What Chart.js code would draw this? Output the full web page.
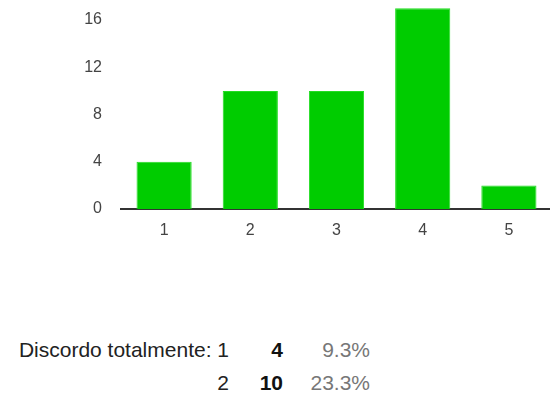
<!DOCTYPE html>
<html lang="pt">
<head>
<meta charset="UTF-8">
<title>Discordo totalmente</title>
<script src="https://cdn.jsdelivr.net/npm/chart.js"></script>
<style>
  body { margin: 0; background: #fff; font-family: "Liberation Sans", Arial, sans-serif; overflow: hidden; }
  #wrap { position: relative; width: 552px; height: 241px; }
  .row { position: absolute; left: 0; width: 550px; height: 24px; font-size: 21px; line-height: 24px; }
  .row span { position: absolute; top: 0; text-align: right; white-space: nowrap; }
  .lab { right: 321px; color: #222; }
  .num { right: 267px; color: #111; font-weight: bold; }
  .pct { right: 180px; color: #777; }
</style>
</head>
<body>
<div id="wrap"><canvas id="grafico"></canvas></div>
<div id="tabela"></div>

<script>
// valores
const categorias = ['1', '2', '3', '4', '5'];
const respostas = [4, 10, 10, 17, 2];
const ticksY = [0, 4, 8, 12, 16];

const total = respostas.reduce((a, b) => a + b, 0);

new Chart(document.getElementById('grafico'), {
    type: 'bar',
    data: {
        labels: categorias,
        datasets: [{
            data: respostas,
            backgroundColor: '#00cc00',
            borderColor: '#22dd22',
            borderWidth: 1,
            barPercentage: 0.64,
            categoryPercentage: 1
        }]
    },
    options: {
        responsive: true,
        maintainAspectRatio: false,
        animation: false,
        layout: { padding: 0 },
        plugins: { legend: { display: false }, tooltip: { enabled: false } },
        scales: {
            x: {
                grid: { display: false, drawTicks: false },
                border: { display: true, color: '#333', width: 2 },
                ticks: { color: '#444', padding: 12, font: { family: 'Liberation Sans', size: 16 } },
                afterFit: s => { s.height = 32; s.paddingLeft = 0; s.paddingRight = 0; }
            },
            y: {
                min: 0,
                max: 17.7,
                grid: { display: false, drawTicks: false },
                border: { display: false },
                afterBuildTicks: s => { s.ticks = ticksY.map(v => ({ value: v })); },
                ticks: { color: '#444', padding: 19, font: { family: 'Liberation Sans', size: 16 } },
                afterFit: s => { s.width = 121; s.paddingTop = 0; s.paddingBottom = 0; }
            }
        }
    }
});

// tabela de resumo abaixo do grafico
const tabela = document.getElementById('tabela');
const linhas = [
    { rotulo: 'Discordo totalmente: 1', i: 0, top: 338 },
    { rotulo: '2', i: 1, top: 371 }
];
linhas.forEach(l => {
    const div = document.createElement('div');
    div.className = 'row';
    div.style.top = l.top + 'px';
    const pct = (respostas[l.i] / total * 100).toFixed(1) + '%';
    div.innerHTML = '<span class="lab">' + l.rotulo + '</span>' +
        '<span class="num">' + respostas[l.i] + '</span>' +
        '<span class="pct">' + pct + '</span>';
    tabela.appendChild(div);
});
</script>
</body>
</html>
